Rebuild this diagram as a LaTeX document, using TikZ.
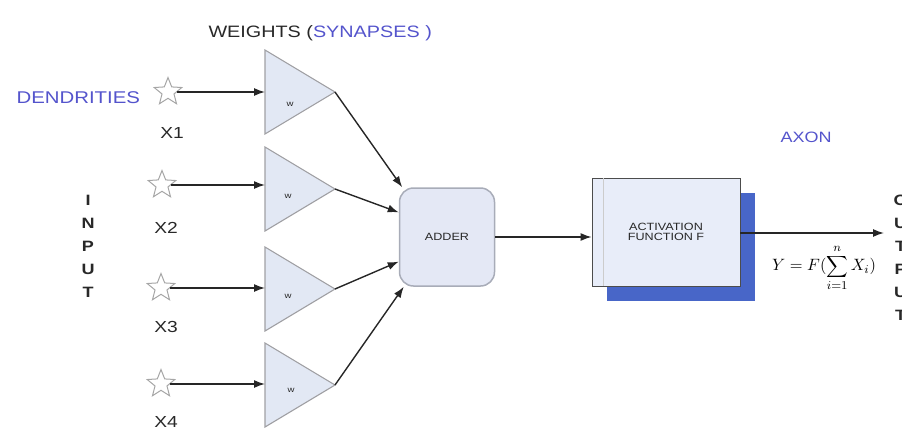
\documentclass[tikz,border=0pt]{standalone}
\usepackage{fontspec}
\setmainfont{Liberation Sans}[FakeStretch=1.2]
\usetikzlibrary{shapes.geometric,shadows,arrows.meta}
\definecolor{txtblue}{RGB}{84,84,204}
\definecolor{trifill}{RGB}{226,232,244}
\definecolor{trieline}{RGB}{160,160,164}
\definecolor{addfill}{RGB}{228,232,245}
\definecolor{addline}{RGB}{168,172,184}
\definecolor{actfill}{RGB}{232,237,249}
\definecolor{actshadow}{RGB}{72,102,200}
\definecolor{textgray}{RGB}{40,40,40}
\tikzset{
  fs/.style={font=\fontsize{#1}{#1}\selectfont},
  inputstar/.style={star, star points=5, star point ratio=2.3, minimum size=29pt,
    inner sep=0pt, draw=gray!70, fill=white, line width=1pt},
  weight/.style={isosceles triangle, isosceles triangle stretches, shape border rotate=0,
    minimum width=84pt, minimum height=70pt, inner sep=0pt, outer sep=0pt,
    draw=trieline, fill=trifill, line width=1.1pt},
  wlabel/.style={fs=8, text=textgray},
  xlabel/.style={fs=16, text=textgray},
  conn/.style={-{Latex[length=11pt,width=8pt]}, line width=1.4pt, black!85},
  vertword/.style={font=\bfseries\fontsize{15}{23}\selectfont, align=center, text=textgray}
}
\begin{document}
\begin{tikzpicture}[x=1pt,y=-1pt]
\useasboundingbox (0,0) rectangle (902,432);

% headings
\node[fs=16.5, text=textgray, anchor=west] (wt) at (205,33) {WEIGHTS (\textcolor{txtblue}{SYNAPSES )}};
\node[fs=17, text=txtblue, anchor=west] (dend) at (13,98) {DENDRITIES};
\node[fs=15, text=txtblue] (axon) at (806,137) {AXON};

% vertical words
\node[vertword] (inp) at (88,246) {I\\N\\P\\U\\T};
\node[vertword, anchor=west] (outp) at (890,258) {O\\U\\T\\P\\U\\T};

% inputs
\node[inputstar] (s1) at (168,92) {};
\node[inputstar] (s2) at (162,185) {};
\node[inputstar] (s3) at (161,288) {};
\node[inputstar] (s4) at (161,384) {};
\node[xlabel] (x1) at (172,133) {X1};
\node[xlabel] (x2) at (166,228) {X2};
\node[xlabel] (x3) at (166,327) {X3};
\node[xlabel] (x4) at (166,422) {X4};

% weights
\node[weight, anchor=west] (t1) at (265,92) {};
\node[weight, anchor=west] (t2) at (265,189) {};
\node[weight, anchor=west] (t3) at (265,289) {};
\node[weight, anchor=west] (t4) at (265,385) {};
\node[wlabel] (w1) at (290,104) {w};
\node[wlabel] (w2) at (288,196) {w};
\node[wlabel] (w3) at (288,296) {w};
\node[wlabel] (w4) at (291,390) {w};

% adder
\node[draw=addline, fill=addfill, line width=1.5pt, rounded corners=14pt,
      minimum width=95pt, minimum height=98pt, fs=10.5, text=textgray] (adder) at (447,237) {ADDER};

% activation function
\node[draw=black!70, fill=actfill, line width=0.8pt, minimum width=148pt, minimum height=108pt,
      align=center, fs=10.5, text=textgray,
      drop shadow={shadow xshift=15pt, shadow yshift=-15pt, fill=actshadow, opacity=1}]
      (act) at (666,232) {ACTIVATION\\FUNCTION F};
\draw[black!20, line width=0.8pt] ([xshift=12pt]act.north west) -- ([xshift=12pt]act.south west);

% output
\coordinate (yout) at (884,233);
\node[fs=11] (form) at (824,268) {\scalebox{1.5}{$Y = F(\displaystyle\sum_{i=1}^{n} X_i)$}};

% connectors
\draw[conn] (s1.east) -- (s1.east -| t1.west);
\draw[conn] (s2.east) -- (s2.east -| t2.west);
\draw[conn] (s3.east) -- (s3.east -| t3.west);
\draw[conn] (s4.east) -- (s4.east -| t4.west);
\draw[conn] (t1.apex) -- (adder.132);
\draw[conn] (t2.apex) -- (adder.153);
\draw[conn] (t3.apex) -- (adder.207);
\draw[conn] (t4.apex) -- (adder.229);
\draw[conn] (adder.east) -- (adder.east -| act.west);
\draw[conn] (act.east |- yout) -- (yout);
\end{tikzpicture}
\end{document}
